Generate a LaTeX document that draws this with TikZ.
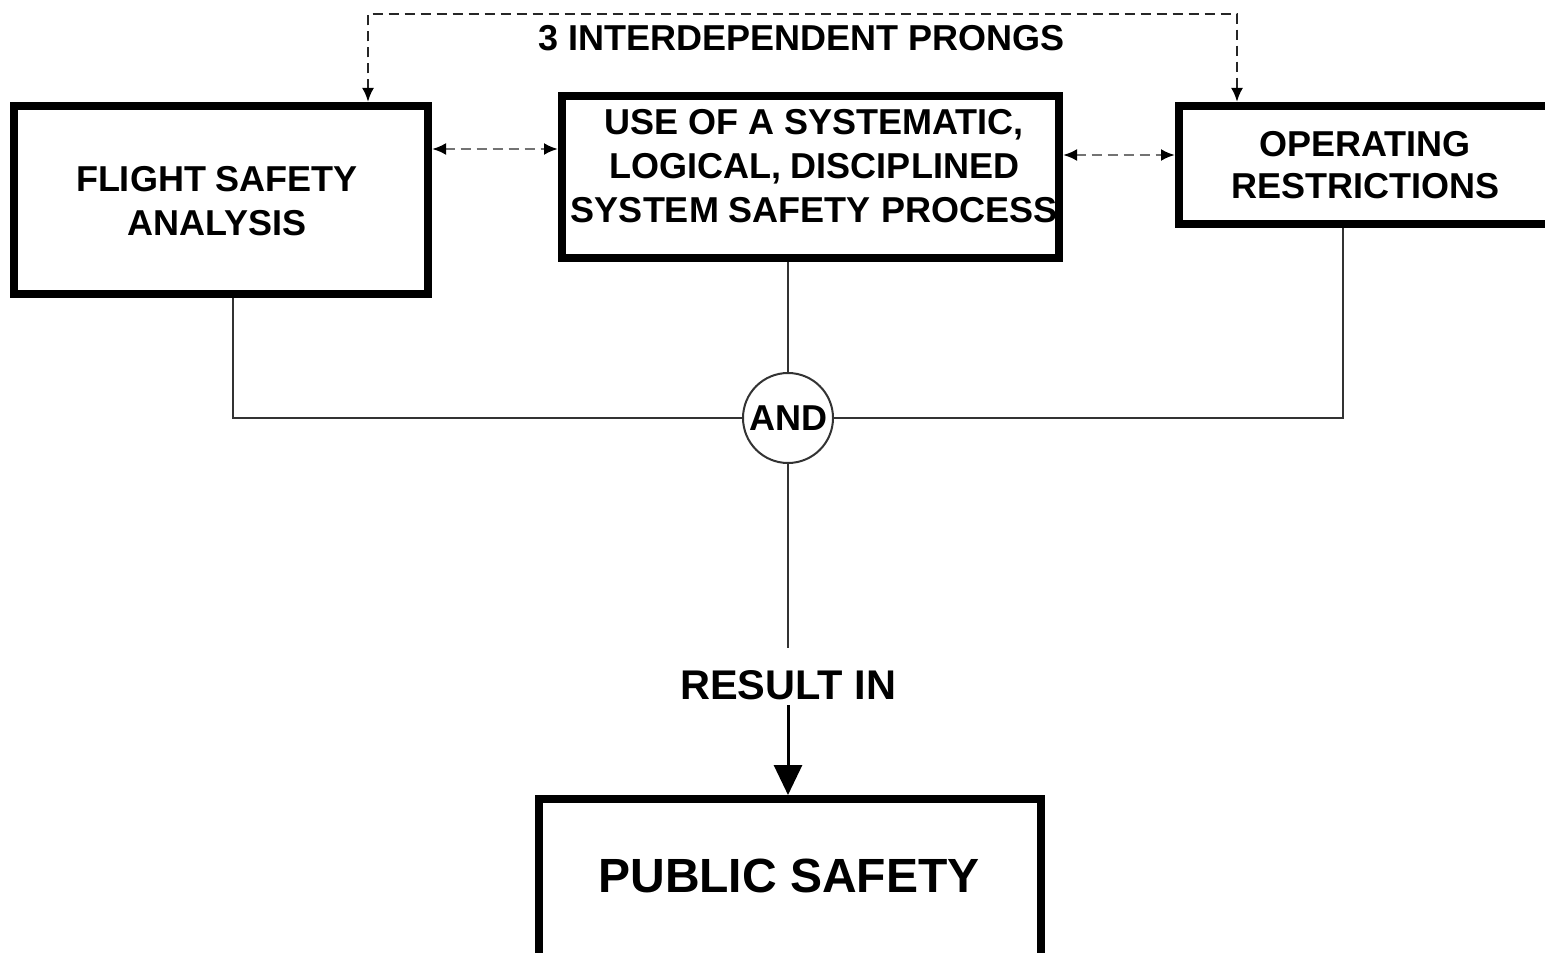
\documentclass[tikz,border=0pt]{standalone}
\usepackage{fontspec}
\setmainfont{Liberation Sans}
\usetikzlibrary{arrows.meta}
\begin{document}
\begin{tikzpicture}[x=0.5pt,y=-0.5pt,
  box/.style={draw, line width=4pt, inner sep=0pt},
  lbl/.style={font=\fontsize{18}{22}\selectfont\bfseries, align=center, inner sep=0pt},
  conn/.style={line width=1pt, draw=black!80},
  dsh/.style={line width=1.3pt, dash pattern=on 5pt off 3pt,
    {Latex[length=7pt,width=6pt,color=black]}-{Latex[length=7pt,width=6pt,color=black]}},
]
\clip (0,0) rectangle (1545,952);
\fill[white] (0,0) rectangle (1545,952);
% boxes
\node[box, minimum width=207pt, minimum height=94pt] (fsa) at (221,200) {};
\node[lbl] (fsat) at (217,201) {FLIGHT SAFETY\\ANALYSIS};
\node[box, minimum width=248.5pt, minimum height=81pt] (mid) at (810.5,177) {};
\node[lbl] (midt) at (814,166) {USE OF A SYSTEMATIC,\\LOGICAL, DISCIPLINED\\SYSTEM SAFETY PROCESS};
\node[box, minimum width=186.5pt, minimum height=59pt] (ops) at (1365.5,165) {};
\node[lbl, font=\fontsize{18}{21}\selectfont\bfseries] (opst) at (1365,165) {OPERATING\\RESTRICTIONS};
\node[box, minimum width=251pt, minimum height=79.5pt] (ps) at (790,878.5) {};
\node[font=\fontsize{24}{28}\selectfont\bfseries, inner sep=0pt] (pst) at (789,876) {PUBLIC SAFETY};
% AND gate
\node[circle, draw=black!80, line width=1pt, minimum size=45pt, inner sep=0pt,
      font=\fontsize{18}{22}\selectfont\bfseries] (and) at (788,418) {AND};
% junctions
\coordinate (jl) at (233,418);
\coordinate (jr) at (1343,418);
\draw[conn] (fsa.south -| jl) -- (jl) -- (and.west);
\draw[conn] (ops.south -| jr) -- (jr) -- (and.east);
\draw[conn] (mid.south -| and.north) -- (and.north);
% result
\node[font=\fontsize{20.75}{24}\selectfont\bfseries, inner sep=0pt] (res) at (788,685) {RESULT IN};
\draw[conn] (and.south) -- ([yshift=11pt]res.north);
\draw[line width=1.5pt, -{Triangle[length=15pt,width=14pt]}] ([yshift=-2.5pt]res.south) -- (res.south |- ps.north);
% top dashed
\coordinate (tl) at (368,14);
\coordinate (tr) at (1237,14);
\draw[dsh, draw=black!85] (tl |- fsa.north) -- (tl) -- (tr) -- (tr |- ops.north);
\node[lbl] (prong) at (802,38) {3 INTERDEPENDENT PRONGS};
% side dashed
\coordinate (s1) at (0,149);
\coordinate (s2) at (0,155);
\draw[dsh, draw=black!55] (fsa.east |- s1) -- (mid.west |- s1);
\draw[dsh, draw=black!55] (mid.east |- s2) -- (ops.west |- s2);
\end{tikzpicture}
\end{document}
